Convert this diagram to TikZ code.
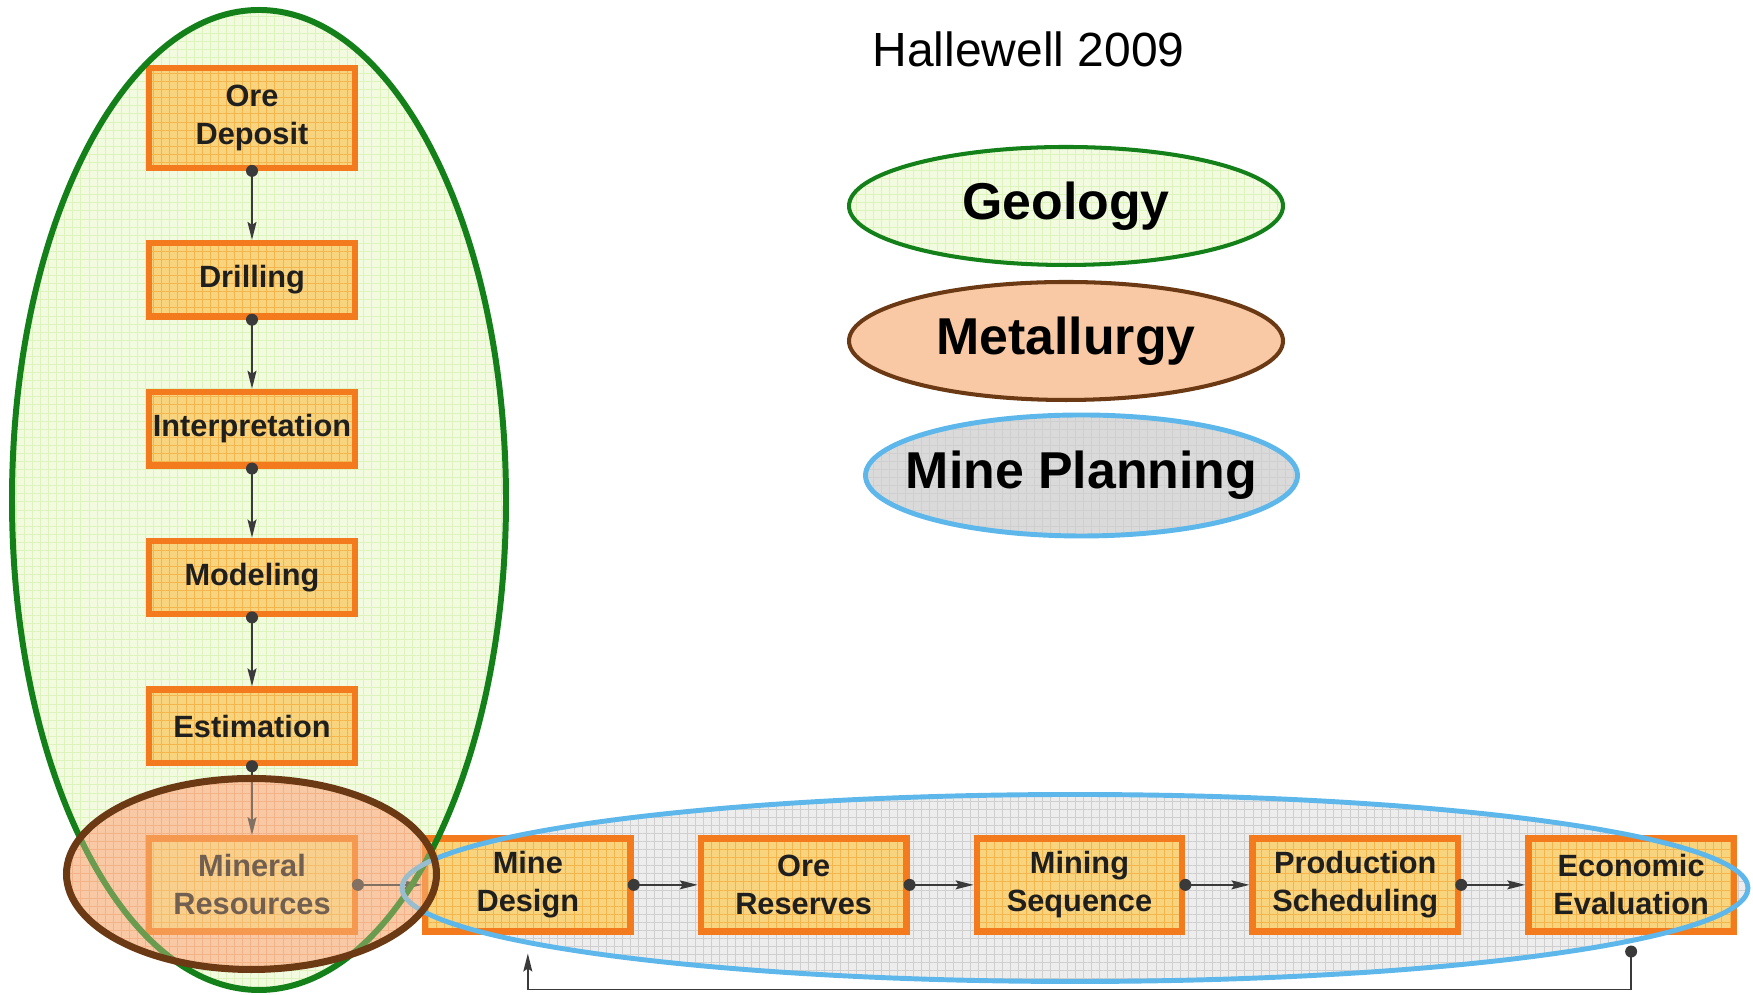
\documentclass[tikz,border=0pt]{standalone}
\usepackage{fontspec}
\setmainfont{Liberation Sans}
\usetikzlibrary{positioning,shapes.geometric,arrows.meta,patterns.meta}

\definecolor{boxfill}{HTML}{F8D47E}
\definecolor{boxgrid}{HTML}{F3B54C}
\definecolor{boxline}{HTML}{F47A1E}
\definecolor{geofill}{HTML}{F2FBDF}
\definecolor{geogrid}{HTML}{DDF3BC}
\definecolor{geoline}{HTML}{13801A}
\definecolor{metfill}{HTML}{F8C9A4}
\definecolor{metgrid}{HTML}{EFA77A}
\definecolor{metline}{HTML}{6B3913}
\definecolor{planfill}{HTML}{EDEDED}
\definecolor{plangrid}{HTML}{CFCFCF}
\definecolor{planline}{HTML}{5DB7EA}
\definecolor{legendgrey}{HTML}{DADADA}
\definecolor{arrowgrey}{HTML}{3A3A3A}

\tikzset{
  gridded/.style={postaction={pattern={Hatch[angle=0,distance=4.6pt,line width=0.45pt]}, pattern color=#1}},
  gridfill/.style 2 args={preaction={fill=#1, gridded=#2}},
  stage/.style={draw=boxline, line width=3.6pt, gridfill={boxfill}{boxgrid},
    minimum width=4.11cm, minimum height=1.47cm, inner sep=0pt, align=center,
    font=\fontsize{17.5}{21.5}\selectfont\bfseries, text=black!88},
  stage2/.style={stage, minimum height=1.86cm},
  flow/.style={draw=arrowgrey, line width=0.8pt, -{Stealth[length=3.6mm,width=1.8mm,inset=0.6mm]}},
  legend/.style={ellipse, inner sep=0pt, minimum width=8.68cm, minimum height=2.36cm,
    line width=2.3pt, font=\fontsize{29.5}{34}\selectfont\bfseries},
}

\begin{document}
\begin{tikzpicture}
    \useasboundingbox (0,0) rectangle (35.06,19.9);

    % group fills
    \fill[geofill, gridded=geogrid] (5.18,9.9) ellipse (4.94 and 9.8);
    \fill[planfill, gridded=plangrid] (21.5,2.14) ellipse (13.46 and 1.87);
    \fill[metfill, gridded=metgrid] (5.03,2.42) ellipse (3.7 and 1.91);

    % geology chain
    \node[stage, minimum height=1.99cm] (ore) at (5.04,17.54) {Ore\\Deposit};
    \node[stage, below=1.38cm of ore] (drill) {Drilling};
    \node[stage, below=1.38cm of drill] (interp) {Interpretation};
    \node[stage, below=1.38cm of interp] (model) {Modeling};
    \node[stage, below=1.38cm of model] (estim) {Estimation};
    \node[stage2, below=1.38cm of estim] (mineral) {Mineral\\Resources};

    % planning chain
    \node[stage2, right=1.28cm of mineral] (mine) {Mine\\Design};
    \node[stage2, right=1.28cm of mine] (reserves) {Ore\\Reserves};
    \node[stage2, right=1.28cm of reserves] (sequence) {Mining\\Sequence};
    \node[stage2, right=1.28cm of sequence] (sched) {Production\\Scheduling};
    \node[stage2, right=1.28cm of sched] (econ) {Economic\\Evaluation};

    \foreach \a/\b in {ore/drill, drill/interp, interp/model, model/estim, estim/mineral} {
        \draw[flow] (\a.south) -- (\b.north);
        \fill[arrowgrey] (\a.south) circle (0.12);
    }
    \foreach \a/\b in {mineral/mine, mine/reserves, reserves/sequence, sequence/sched, sched/econ} {
        \draw[flow] (\a.east) -- (\b.west);
        \fill[arrowgrey] (\a.east) circle (0.12);
    }

    % feedback loop
    \fill[arrowgrey] ([yshift=-0.34cm]econ.south) circle (0.12);
    \draw[flow] ([yshift=-0.34cm]econ.south) -- ++(0,-0.76) -| ([yshift=-0.38cm]mine.south);

    % group outlines
    \draw[geoline, line width=3.4pt] (5.18,9.9) ellipse (4.94 and 9.8);
    \draw[planline, line width=2.8pt] (21.5,2.14) ellipse (13.46 and 1.87);
    \fill[metfill, opacity=0.38] (5.03,2.42) ellipse (3.7 and 1.91);
    \draw[metline, line width=4pt] (5.03,2.42) ellipse (3.7 and 1.91);

    % legend
    \node (title) at (20.57,18.92) {\fontsize{27.3}{32}\selectfont Hallewell 2009};
    \node[legend, draw=geoline, gridfill={geofill}{geogrid}] (geology) at (21.32,15.78) {Geology};
    \node[legend, draw=metline, fill=metfill] (metallurgy) at (21.32,13.08) {Metallurgy};
    \node[legend, draw=planline, gridfill={legendgrey}{plangrid}, line width=2.8pt, inner xsep=-0.5cm,
        minimum width=8.64cm, minimum height=2.42cm] (planning) at (21.63,10.39) {Mine Planning};
\end{tikzpicture}
\end{document}
